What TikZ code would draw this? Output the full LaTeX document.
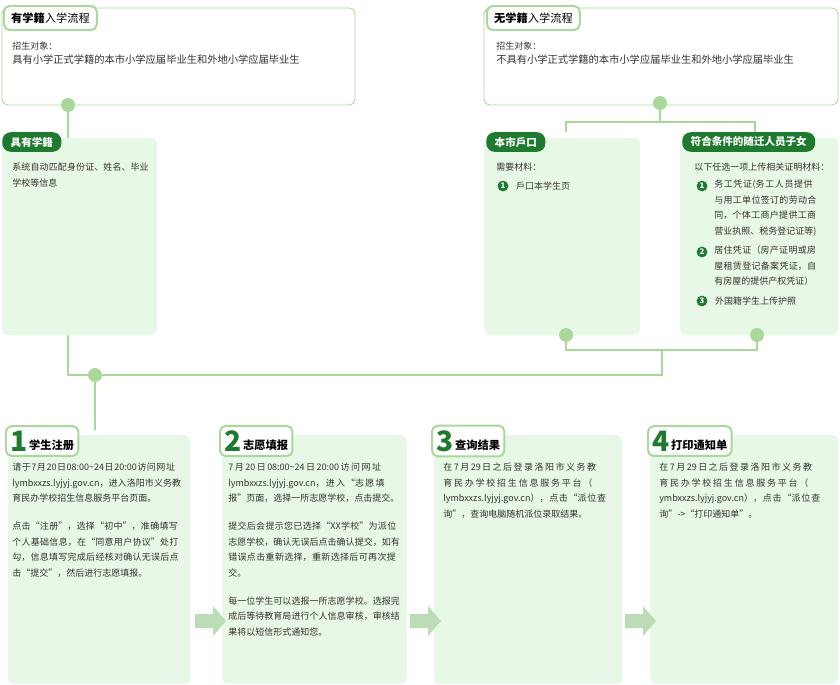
\documentclass[tikz,border=0pt]{standalone}
\usepackage{fontspec}
\setmainfont{Noto Sans CJK SC}
\usetikzlibrary{positioning, calc, arrows.meta}
\definecolor{mygreen}{HTML}{1E7A2E}
\definecolor{myline}{HTML}{A9D89A}
\definecolor{myfill}{HTML}{E8F8E6}
\definecolor{mytext}{HTML}{333333}
\XeTeXlinebreaklocale "zh"
\XeTeXlinebreakskip=0pt plus 1pt
\hyphenpenalty=10000
\begin{document}
\begin{tikzpicture}[x=0.025cm, y=-0.025cm,
                    font=\fontsize{6.4}{11}\selectfont,
                    my box/.style={draw=myline, fill=white, rounded corners=4pt, line width=0.6pt},
                    my panel/.style={fill=myfill, rounded corners=4pt},
                    my tab/.style={draw=myline, fill=white, line width=1.4pt, rounded corners=4pt,
                      anchor=west, inner xsep=5pt, minimum height=0.6cm, font=\fontsize{8}{9}\selectfont},
                    my pill/.style={fill=mygreen, text=white, rounded corners=6pt, anchor=west,
                      inner xsep=6pt, minimum height=0.48cm, font=\bfseries\fontsize{7.5}{9}\selectfont},
                    my text/.style={anchor=north west, align=left, text=mytext, inner sep=0pt},
                    my link/.style={draw=myline, line width=1.5pt},
                    my dot/.style={circle, fill=myline, inner sep=0pt, minimum size=0.35cm},
                    my num/.style={circle, fill=mygreen, text=white, inner sep=0pt, minimum size=0.27cm,
                      font=\bfseries\fontsize{5.5}{6}\selectfont},
                    my arrow/.style={fill=myline!80!mygreen!60}]
\useasboundingbox (0,0) rectangle (840,684);

% Connectors
\draw[my link] (68,105) -- (68,140);
\draw[my link] (660,103) -- (660,122) (566,132) |- (755,122) -- (755,132);
\draw[my link] (566,335) |- (757,350) -- (757,335) (662,350) |- (68,375) -- (68,335);
\draw[my link] (95,375) -- (95,430);

% Top boxes
\draw[my box] (2,8) rectangle (355,105);
\node[my tab] (tabA) at (3,18) {\textbf{有学籍}入学流程};
\node[my text] (targetA) at (12,42) {招生对象：\\[-1pt]{\fontsize{7.3}{10}\selectfont 具有小学正式学籍的本市小学应届毕业生和外地小学应届毕业生}};
\draw[my box] (484,8) rectangle (838,105);
\node[my tab] (tabB) at (486,18) {\textbf{无学籍}入学流程};
\node[my text] (targetB) at (496,42) {招生对象：\\[-1pt]{\fontsize{7.3}{10}\selectfont 不具有小学正式学籍的本市小学应届毕业生和外地小学应届毕业生}};
\node[my dot] (dotA) at (68,105) {};
\node[my dot] (dotB) at (660,103) {};

% Middle panels
\fill[my panel] (2,138) rectangle (157,335);
\node[my pill] (pillA) at (2,142) {具有学籍};
\node[my text, text width=3.45cm] (infoA) at (12,163) {系统自动匹配身份证、姓名、毕业学校等信息};
\fill[my panel] (484,138) rectangle (640,335);
\node[my pill] (pillB) at (486,142) {本市戶口};
\node[my text] (infoB) at (496,163) {需要材料：};
\node[my num] (nB1) at (503,186) {1};
\node[text=mytext, inner sep=0pt, right=5pt of nB1] (itemB1) {戶口本学生页};
\fill[my panel] (680,138) rectangle (838,335);
\node[my pill] (pillC) at (682,142) {符合条件的随迁人员子女};
\node[my text] (infoC) at (694,163) {以下任选一项上传相关证明材料：};
\node[my num] (nC1) at (702,186) {1};
\node[my text, text width=2.65cm] (itemC1) at (714,180) {务工凭证(务工人员提供与用工单位签订的劳动合同，个体工商户提供工商营业执照、税务登记证等)};
\node[my num] (nC2) at (702,252) {2};
\node[my text, text width=2.65cm] (itemC2) at (714,246) {居住凭证（房产证明或房屋租赁登记备案凭证，自有房屋的提供产权凭证）};
\node[my num] (nC3) at (702,301) {3};
\node[text=mytext, inner sep=0pt, right=5pt of nC3] (itemC3) {外国籍学生上传护照};
\node[my dot] (dotC) at (566,335) {};
\node[my dot] (dotD) at (757,335) {};
\node[my dot] (dotE) at (95,375) {};

% Steps
\foreach \x/\w/\n/\t [count=\i] in {8/182/1/学生注册, 222/185/2/志愿填报, 434/188/3/查询结果, 650/188/4/打印通知单} {
  \fill[my panel] (\x,435) rectangle ++(\w,249);
  \node[my tab, inner xsep=3pt, minimum height=0.7cm] (tab\i) at (\x-3,441)
    {\raisebox{-1.5pt}{\fontsize{20}{20}\selectfont\bfseries\color{mygreen}\n}\,\textbf{\t}\hspace{8pt}};
}
\foreach \x in {195,410,625}
  \fill[my arrow] (\x,614) -- (\x+18,614) -- (\x+18,606) -- (\x+31,621) -- (\x+18,636) -- (\x+18,628) -- (\x,628) -- cycle;

\node[my text, text width=4.25cm] (textA) at (12,463)
  {请于7月20日08:00\textasciitilde24日20:00访问网址lymbxxzs.lyjyj.gov.cn，进入洛阳市义务教育民办学校招生信息服务平台页面。\\[9pt]
   点击“注册”，选择“初中”，准确填写个人基础信息，在“同意用户协议”处打勾，信息填写完成后经核对确认无误后点击“提交”，然后进行志愿填报。};
\node[my text, text width=4.3cm] (textB) at (228,463)
  {7月20日08:00\textasciitilde24日20:00访问网址 lymbxxzs.lyjyj.gov.cn，进入“志愿填报”页面，选择一所志愿学校，点击提交。\\[9pt]
   提交后会提示您已选择“XX学校”为派位志愿学校，确认无误后点击确认提交，如有错误点击重新选择，重新选择后可再次提交。\\[9pt]
   每一位学生可以选报一所志愿学校。选报完成后等待教育局进行个人信息审核，审核结果将以短信形式通知您。};
\node[my text, text width=4.3cm] (textC) at (443,463)
  {在7月29日之后登录洛阳市义务教育民办学校招生信息服务平台（ lymbxxzs.lyjyj.gov.cn），点击“派位查询”，查询电脑随机派位录取结果。};
\node[my text, text width=4.3cm] (textD) at (659,463)
  {在7月29日之后登录洛阳市义务教育民办学校招生信息服务平台（ ymbxxzs.lyjyj.gov.cn），点击“派位查询”->“打印通知单”。};
\end{tikzpicture}
\end{document}
